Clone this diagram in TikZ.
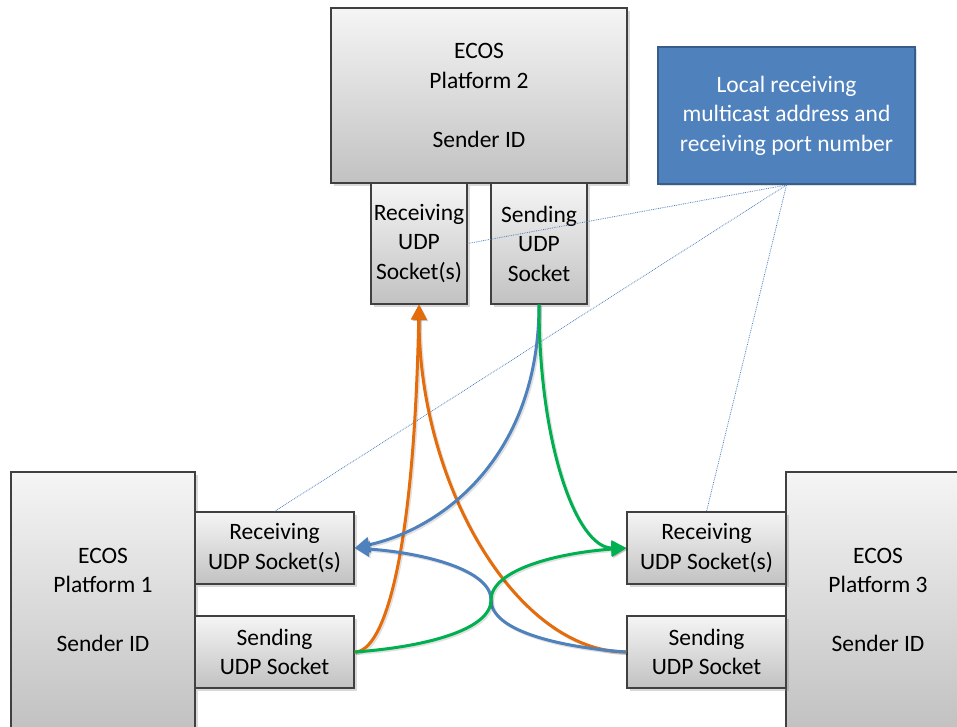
\documentclass[tikz,border=0pt]{standalone}
\usepackage{fontspec}
\setmainfont{Carlito}
\usepackage{tikz}
\usetikzlibrary{arrows.meta,shadows}

\definecolor{noteblue}{HTML}{4F81BD}
\definecolor{noteborder}{HTML}{385D8A}
\definecolor{linkorange}{HTML}{E46C0A}
\definecolor{linkgreen}{HTML}{00B050}
\definecolor{boxborder}{HTML}{404040}

\begin{document}
\begin{tikzpicture}[x=1pt,y=-1pt,
    font=\fontsize{23.5}{29.5}\selectfont,
    box/.style={draw=boxborder,line width=1.2pt,top color=gray!8,bottom color=gray!48,
        drop shadow={shadow xshift=2.5pt,shadow yshift=-2.5pt,opacity=0.3},
        align=center,inner sep=0pt},
    platform/.style={box,minimum width=184pt,minimum height=256pt},
    socket/.style={box,minimum width=159pt,minimum height=72pt},
    tallsocket/.style={box,minimum width=96pt,minimum height=121pt},
    note/.style={draw=noteborder,line width=2pt,fill=noteblue,text=white,align=center,
        minimum width=257pt,minimum height=137pt,inner sep=0pt,
        drop shadow={shadow xshift=2pt,shadow yshift=-2pt,opacity=0.25}},
    link/.style={line width=3pt,-{Triangle[length=15pt,width=15pt]},
        preaction={draw=black,opacity=0.12,line width=3pt,
            transform canvas={xshift=1.5pt,yshift=-1.5pt}}},
    hint/.style={noteblue,densely dotted,line width=0.8pt}]
        %\tikzstyle{every node}=[draw]
        \useasboundingbox (0,0) rectangle (957,726);
        \clip (0,0) rectangle (957,726);

        \node[platform,minimum width=296pt,minimum height=175pt] (p2) at (479,95.5)
            {ECOS\\Platform 2\\[29.5pt]Sender ID};
        \node[tallsocket] (p2recv) at (419,243.5) {Receiving\\UDP\\Socket(s)};
        \node[tallsocket] (p2send) at (539,243.5) {Sending\\UDP\\Socket};

        \node[platform] (p1) at (103,600) {ECOS\\Platform 1\\[29.5pt]Sender ID};
        \node[socket] (p1recv) at (274.5,548) {Receiving\\UDP Socket(s)};
        \node[socket] (p1send) at (274.5,652) {Sending\\UDP Socket};

        \node[platform] (p3) at (878,600) {ECOS\\Platform 3\\[29.5pt]Sender ID};
        \node[socket] (p3recv) at (706.5,548) {Receiving\\UDP Socket(s)};
        \node[socket] (p3send) at (706.5,652) {Sending\\UDP Socket};

        \node[note] (mcast) at (786.5,115.5)
            {Local receiving\\multicast address and\\receiving port number};

        \coordinate (cross) at (491,600);

        \draw[hint] (mcast.south) -- (p2recv.east);
        \draw[hint] (mcast.south) -- (p1recv.north);
        \draw[hint] (mcast.south) -- (p3recv.north);

        \draw[link,linkorange] (p1send.east) .. controls +(30,0) and +(-5,250) .. (p2recv.south);
        \draw[link,linkorange] (p3send.west) .. controls +(-110,0) and +(0,180) .. (p2recv.south);
        \draw[link,noteblue] (p2send.south) .. controls +(0,150) and +(90,-20) .. (p1recv.east);
        \draw[link,noteblue] (p3send.west) .. controls +(-70,-5) and +(0,30) .. (cross)
            .. controls +(0,-30) and +(70,5) .. (p1recv.east);
        \draw[link,linkgreen] (p2send.south) .. controls +(0,140) and +(-50,0) .. (p3recv.west);
        \draw[link,linkgreen] (p1send.east) .. controls +(70,-5) and +(0,30) .. (cross)
            .. controls +(0,-30) and +(-70,5) .. (p3recv.west);
    \end{tikzpicture}
\end{document}
